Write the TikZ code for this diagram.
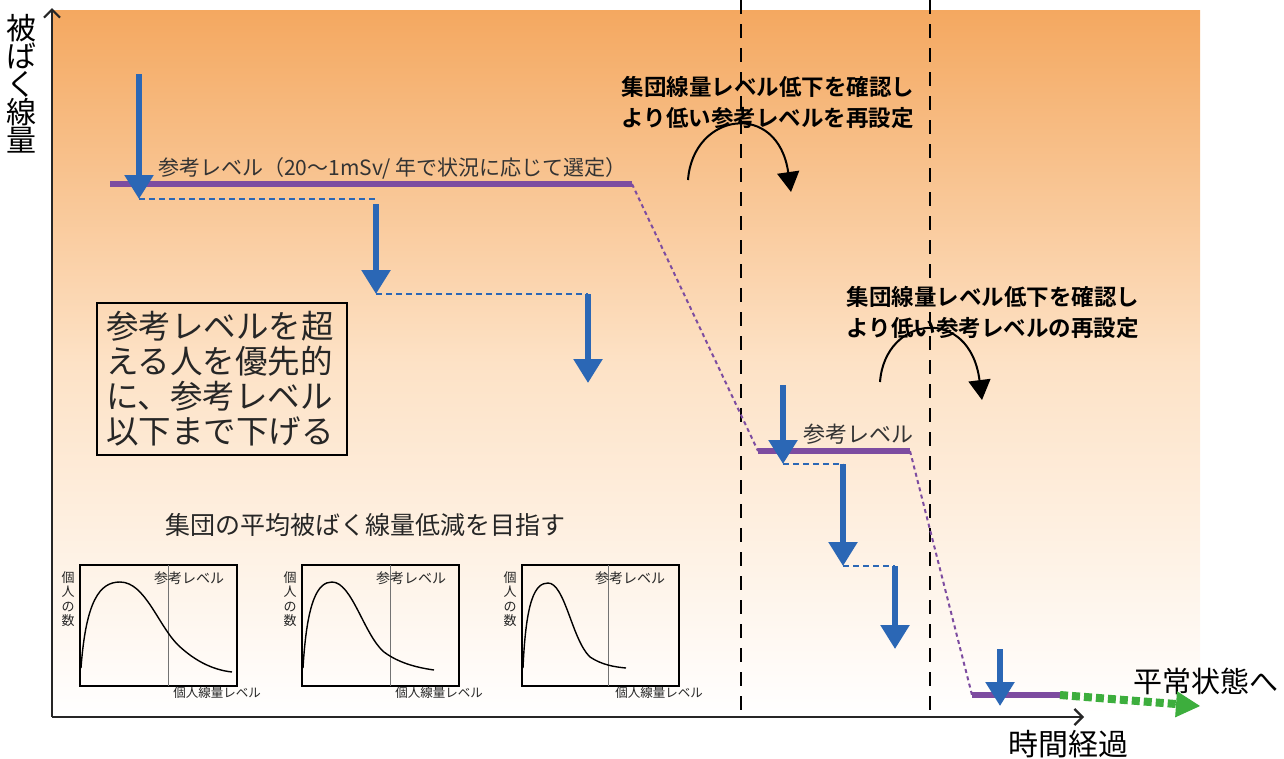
\documentclass[tikz,border=0pt]{standalone}
\usepackage{fontspec}
\newfontfamily\jp{Noto Sans CJK JP}
\newfontfamily\jpb{Noto Sans CJK JP Bold}
\usetikzlibrary{arrows.meta,calc}
\definecolor{bgtop}{HTML}{F4A860}
\definecolor{bgmid}{HTML}{FDE2C6}
\definecolor{lvl}{HTML}{7D4CA0}
\definecolor{blu}{HTML}{2B67B5}
\definecolor{grn}{HTML}{3DAE3D}
\definecolor{txt}{HTML}{333333}
\tikzset{
  fs/.style={font={\jp\fontsize{#1}{#1}\selectfont}},
  axisline/.style={line width=2.2pt, black!85},
  vdash/.style={line width=2.2pt, black, dash pattern=on 14pt off 10pt},
  levelline/.style={line width=6pt, lvl},
  leveldrop/.style={line width=2pt, lvl, dash pattern=on 4pt off 3.5pt},
  bluearrow/.style={line width=5.5pt, blu, -{Triangle[width=28pt,length=24pt]}},
  bluedash/.style={line width=2pt, blu, dash pattern=on 6pt off 4pt},
  curvearrow/.style={line width=2pt, black, -{Triangle[width=22pt,length=20pt]}},
  refline/.style={line width=0.8pt, black!55},
  curve/.style={line width=1.4pt, black},
}
\begin{document}
\begin{tikzpicture}[x=1pt,y=-1pt]
\useasboundingbox (0,0) rectangle (1284,758);
% background gradient
\shade[top color=bgtop, bottom color=white, middle color=bgmid] (52,10) rectangle (1200,717);
% dashed vertical lines
\coordinate (d1t) at (741,0); \coordinate (d1b) at (741,717);
\coordinate (d2t) at (930,0); \coordinate (d2b) at (930,717);
\draw[vdash] (d1t) -- (d1b);
\draw[vdash] (d2t) -- (d2b);
% axes
\coordinate (origin) at (52,717);
\coordinate (ytop) at (52,8);
\coordinate (xend) at (1084,717);
\draw[axisline, -{Straight Barb[length=8pt,width=16pt]}] (origin) -- (ytop);
\draw[axisline, -{Straight Barb[length=8pt,width=16pt]}] (origin) -- (xend);
\node[fs=30, align=center, inner sep=0pt] (ylab) at (21,84) {被\\[-2pt]ば\\[-2pt]く\\[-2pt]線\\[-2pt]量};
\node[fs=30, inner sep=0pt] (xlab) at (1068,744) {時間経過};
\node[fs=29, inner sep=0pt] (normal) at (1206,681) {平常状態へ};
% levels
\coordinate (L1a) at (110,184); \coordinate (L1b) at (632,184);
\coordinate (L2a) at (758,451); \coordinate (L2b) at (910,451);
\coordinate (L3a) at (972,695); \coordinate (L3b) at (1060,695);
\coordinate (gmid) at (1176,704);
\coordinate (gend) at (1200,706);
\draw[leveldrop] (L1b) -- (L2a);
\draw[leveldrop] (L2b) -- (L3a);
\draw[levelline] (L1a) -- (L1b);
\draw[levelline] (L2a) -- (L2b);
\draw[levelline] (L3a) -- (L3b);
\draw[line width=8pt, grn, dash pattern=on 8pt off 4pt] (L3b) -- (gmid);
\draw[line width=1pt, grn, -{Triangle[width=26pt,length=24pt]}] ($(gmid)+(-4,0)$) -- (gend);
% level labels
\node[fs=21, text=txt, anchor=south west, inner sep=0pt] (lab1) at (158,179) {参考レベル（20〜1mSv/ 年で状況に応じて選定）};
\node[fs=22, text=txt, anchor=south west, inner sep=0pt] (lab2) at (803,445) {参考レベル};
% blue arrows group 1
\coordinate (a1s) at (139,74); \coordinate (a1e) at (139,199);
\coordinate (a2s) at (376,204); \coordinate (a2e) at (376,294);
\coordinate (a3s) at (588,294); \coordinate (a3e) at (588,383);
\draw[bluedash] (a1e) -- (a2s|-a1e) ;
\draw[bluedash] (a2e) -- (a3s);
\draw[bluearrow] (a1s) -- (a1e);
\draw[bluearrow] (a2s) -- (a2e);
\draw[bluearrow] (a3s) -- (a3e);
% blue arrows group 2
\coordinate (a4s) at (783,385); \coordinate (a4e) at (783,464);
\coordinate (a5s) at (843,464); \coordinate (a5e) at (843,566);
\coordinate (a6s) at (895,566); \coordinate (a6e) at (895,649);
\draw[bluedash] (a4e) -- (a5s);
\draw[bluedash] (a5e) -- (a6s);
\draw[bluearrow] (a4s) -- (a4e);
\draw[bluearrow] (a5s) -- (a5e);
\draw[bluearrow] (a6s) -- (a6e);
% blue arrow group 3
\coordinate (a7s) at (1000,649); \coordinate (a7e) at (1000,706);
\draw[bluearrow] (a7s) -- (a7e);
% bold captions
\node[font={\jpb\fontsize{22.5}{31}\selectfont}, align=left, inner sep=0pt] (cap1) at (768,102) {集団線量レベル低下を確認し\\より低い参考レベルを再設定};
\node[font={\jpb\fontsize{22.5}{31}\selectfont}, align=left, inner sep=0pt] (cap2) at (993,312) {集団線量レベル低下を確認し\\より低い参考レベルの再設定};
% curved arrows
\coordinate (c1s) at (688,180); \coordinate (c1e) at (791,192);
\draw[curvearrow] (c1s) .. controls (693,112) and (778,100) .. (c1e);
\coordinate (c2s) at (880,382); \coordinate (c2e) at (982,400);
\draw[curvearrow] (c2s) .. controls (885,315) and (970,305) .. (c2e);
% text box
\node[draw=black, line width=2pt, align=left, text=black!85, minimum width=250pt, minimum height=152pt, inner sep=0pt, text width=232pt, font={\jp\fontsize{32.5}{35}\selectfont}] (box) at (222,379)
 {参考レベルを超\\える人を優先的\\に、参考レベル\\以下まで下げる};
\node[fs=25, text=black!85, inner sep=0pt] (goal) at (365,525) {集団の平均被ばく線量低減を目指す};
% small plots
\foreach \ox/\nm in {0/p1, 222/p2, 442/p3} {
  \begin{scope}[xshift=\ox]
  \node[draw=black, line width=2.6pt, minimum width=157pt, minimum height=121pt, inner sep=0pt] (\nm) at (158.5,625.5) {};
  \node[align=center, inner sep=0pt, text=black!85, font={\jp\fontsize{13}{14.5}\selectfont}] (\nm y) at (68,599) {個\\人\\の\\数};
  \node[fs=12.5, inner sep=0pt, text=black!85] (\nm x) at (217,693) {個人線量レベル};
  \end{scope}
}
\draw[refline] (168,565) -- (168,686);
\draw[refline] (390,565) -- (390,686);
\draw[refline] (608,565) -- (608,686);
\node[fs=14, inner sep=0pt, text=black!85] (r1) at (189,578) {参考レベル};
\node[fs=14, inner sep=0pt, text=black!85] (r2) at (411,578) {参考レベル};
\node[fs=14, inner sep=0pt, text=black!85] (r3) at (630,578) {参考レベル};
\draw[curve] (81,668) .. controls (86,600) and (100,582) .. (120,582) .. controls (145,582) and (158,625) .. (178,645) .. controls (196,662) and (214,670) .. (232,672);
\draw[curve] (303,668) .. controls (307,600) and (318,582) .. (332,582) .. controls (352,582) and (364,635) .. (384,652) .. controls (400,664) and (420,668) .. (434,670);
\draw[curve] (523,668) .. controls (526,600) and (535,583) .. (548,583) .. controls (565,583) and (572,640) .. (590,657) .. controls (602,665) and (615,667) .. (626,668);
\end{tikzpicture}
\end{document}
